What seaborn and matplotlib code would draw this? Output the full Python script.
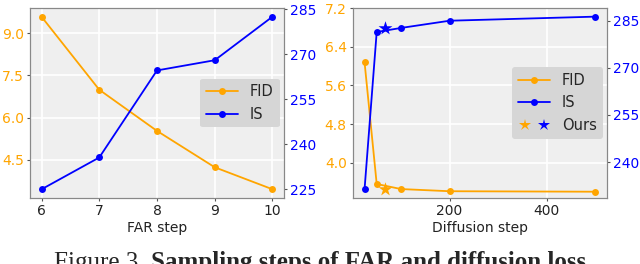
import numpy as np
import pandas as pd
import matplotlib
matplotlib.use("Agg")
import matplotlib.pyplot as plt
import seaborn as sns
from matplotlib.legend_handler import HandlerTuple
from matplotlib.lines import Line2D

# ---- data ----
far_steps = [6, 7, 8, 9, 10]
far_fid = [9.58, 6.99, 5.53, 4.24, 3.46]
far_is = [225.0, 235.6, 264.6, 268.0, 282.5]

diff_steps = [25, 50, 100, 200, 500]
diff_fid = [6.08, 3.56, 3.455, 3.41, 3.40]
diff_is = [231.3, 281.4, 282.7, 285.0, 286.3]

ours_step = [68]
ours_fid = [3.455]
ours_is = [282.7]

left_ticks = [4.5, 6.0, 7.5, 9.0]
right_ticks = [225, 240, 255, 270, 285]
left2_ticks = [4.0, 4.8, 5.6, 6.4, 7.2]
right2_ticks = [240, 255, 270, 285]

ORANGE = "orange"
BLUE = "blue"

sns.set_style("whitegrid", {
    "axes.facecolor": "#efefef",
    "axes.edgecolor": "#888888",
    "grid.color": "white",
    "axes.linewidth": 1.0,
    "xtick.bottom": True,
    "ytick.left": True,
})
plt.rcParams['font.family'] = ['DejaVu Sans']

fig = plt.figure(figsize=(6.4, 2.64), dpi=100)
ax1 = fig.add_axes([30/640, 66/264, 254/640, 190/264])
ax2 = fig.add_axes([353/640, 66/264, 254/640, 190/264])

FS = 10

def style_twin(ax, tw):
    ax.grid(True, color="white", linewidth=1.2)
    tw.grid(False)
    tw.set_facecolor("none")
    for s in tw.spines.values():
        s.set_color("#888888")
    ax.tick_params(axis="y", labelcolor=ORANGE, labelsize=FS, length=2.5, pad=2, color="#555555")
    ax.tick_params(axis="x", labelsize=FS, labelcolor="#222222", length=2.5, pad=2, color="#555555")
    tw.tick_params(axis="y", labelcolor=BLUE, labelsize=FS, length=2.5, pad=2, color="#555555")

# ---- left panel ----
df1 = pd.DataFrame({"step": far_steps, "FID": far_fid, "IS": far_is})
sns.lineplot(data=df1, x="step", y="FID", ax=ax1, color=ORANGE, marker="o",
             markersize=5, markeredgewidth=0, linewidth=1.3, label="FID", legend=False)
tw1 = ax1.twinx()
sns.lineplot(data=df1, x="step", y="IS", ax=tw1, color=BLUE, marker="o",
             markersize=5, markeredgewidth=0, linewidth=1.3, label="IS", legend=False)
ax1.set_xticks(far_steps)
ax1.set_yticks(left_ticks)
ax1.set_yticklabels([f"{v:.1f}" for v in left_ticks])
tw1.set_yticks(right_ticks)
ax1.set_ylim(3.15, 9.89)
tw1.set_ylim(222.1, 285.4)
ax1.set_xlabel("FAR step", fontsize=FS, color="#222222", labelpad=2)
ax1.set_ylabel("")
tw1.set_ylabel("")
style_twin(ax1, tw1)
h1 = [Line2D([], [], color=ORANGE, marker="o", markersize=5, markeredgewidth=0, linewidth=1.3),
      Line2D([], [], color=BLUE, marker="o", markersize=5, markeredgewidth=0, linewidth=1.3)]
leg1 = tw1.legend(h1, ["FID", "IS"], loc="center right", fontsize=10.5, frameon=True,
                  facecolor="#d6d6d6", edgecolor="none", framealpha=1.0,
                  borderaxespad=0.3, handlelength=2.2)

# ---- right panel ----
df2 = pd.DataFrame({"step": diff_steps, "FID": diff_fid, "IS": diff_is})
dfo = pd.DataFrame({"step": ours_step, "FID": ours_fid, "IS": ours_is})
sns.lineplot(data=df2, x="step", y="FID", ax=ax2, color=ORANGE, marker="o",
             markersize=5, markeredgewidth=0, linewidth=1.3, legend=False)
sns.scatterplot(data=dfo, x="step", y="FID", ax=ax2, color=ORANGE, marker="*",
                s=110, linewidth=0, legend=False, zorder=5)
tw2 = ax2.twinx()
sns.lineplot(data=df2, x="step", y="IS", ax=tw2, color=BLUE, marker="o",
             markersize=5, markeredgewidth=0, linewidth=1.3, legend=False)
sns.scatterplot(data=dfo, x="step", y="IS", ax=tw2, color=BLUE, marker="*",
                s=110, linewidth=0, legend=False, zorder=5)
ax2.set_xticks([200, 400])
ax2.set_xlim(1.25, 523.75)
ax2.set_yticks(left2_ticks)
ax2.set_yticklabels([f"{v:.1f}" for v in left2_ticks])
ax2.set_ylim(3.27, 7.2)
tw2.set_yticks(right2_ticks)
tw2.set_ylim(228.55, 289.05)
ax2.set_xlabel("Diffusion step", fontsize=FS, color="#222222", labelpad=2)
ax2.set_ylabel("")
tw2.set_ylabel("")
style_twin(ax2, tw2)
s_or = Line2D([], [], color=ORANGE, marker="*", markersize=9, linestyle="none", markeredgewidth=0)
s_bl = Line2D([], [], color=BLUE, marker="*", markersize=9, linestyle="none", markeredgewidth=0)
h2 = [Line2D([], [], color=ORANGE, marker="o", markersize=5, markeredgewidth=0, linewidth=1.3),
      Line2D([], [], color=BLUE, marker="o", markersize=5, markeredgewidth=0, linewidth=1.3),
      (s_or, s_bl)]
leg2 = tw2.legend(h2, ["FID", "IS", "Ours"], loc="center right", fontsize=10.5, frameon=True,
                  facecolor="#d6d6d6", edgecolor="none", framealpha=1.0,
                  borderaxespad=0.3, handlelength=2.2,
                  handler_map={tuple: HandlerTuple(ndivide=None)})

# ---- caption (cut off at bottom) ----
fig.canvas.draw()
r = fig.canvas.get_renderer()
cap_y = -5/264
t1 = fig.text(0, cap_y, "Figure 3. ", fontsize=18, family="Liberation Serif", va="baseline")
t2 = fig.text(0, cap_y, "Sampling steps of FAR and diffusion loss", fontsize=18,
              family="Liberation Serif", weight="bold", va="baseline")
w1 = t1.get_window_extent(r).width
w2 = t2.get_window_extent(r).width
x0 = (640 - (w1 + w2)) / 2
t1.set_x(x0 / 640)
t2.set_x((x0 + w1) / 640)

fig.savefig("out.png", dpi=100)
